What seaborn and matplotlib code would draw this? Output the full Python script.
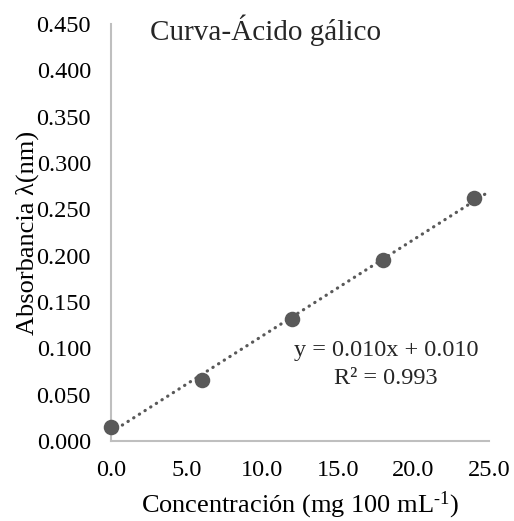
import matplotlib
matplotlib.use("Agg")
import matplotlib.pyplot as plt
import seaborn as sns
import numpy as np
import pandas as pd

conc = [0.0, 6.0, 12.0, 18.0, 24.0]
absorb = [0.015, 0.066, 0.132, 0.195, 0.262]
x_ticks = [0.0, 5.0, 10.0, 15.0, 20.0, 25.0]
y_ticks = [0.000, 0.050, 0.100, 0.150, 0.200, 0.250, 0.300, 0.350, 0.400, 0.450]
title = "Curva-Ácido gálico"
eq_text = "y = 0.010x + 0.010\nR² = 0.993"

sns.set_theme(style="white")
plt.rcParams['font.family'] = ['Liberation Serif', 'DejaVu Serif']
plt.rcParams['mathtext.fontset'] = 'custom'
plt.rcParams['mathtext.rm'] = 'Liberation Serif'
plt.rcParams['mathtext.it'] = 'Liberation Serif:italic'

df = pd.DataFrame({"x": conc, "y": absorb})

fig = plt.figure(figsize=(5.14, 5.21), dpi=100)
ax = fig.add_axes([0.216, 0.1536, 0.735, 0.8004])
ax.set_xlim(0, 25)
ax.set_ylim(0, 0.45)

col = "#595959"
sns.regplot(data=df, x="x", y="y", ax=ax, ci=None, truncate=False,
            scatter_kws=dict(s=125, color=col, alpha=1, clip_on=False, zorder=3, linewidths=0),
            line_kws=dict(color=col, lw=2.3, linestyle=(0, (0.1, 2.0)),
                          dash_capstyle='round', clip_on=False))
ax.set_xlim(0, 25)
ax.set_ylim(0, 0.45)

ax.set_xticks(x_ticks)
ax.set_xticklabels([f"{v:.1f}" for v in x_ticks])
ax.set_yticks(y_ticks)
ax.set_yticklabels([f"{v:.3f}" for v in y_ticks])
ax.tick_params(axis='both', labelsize=17.5, length=0, colors='black')
ax.tick_params(axis='x', pad=14)
ax.tick_params(axis='y', pad=14.5)

for s in ['top', 'right']:
    ax.spines[s].set_visible(False)
for s in ['left', 'bottom']:
    ax.spines[s].set_color('#bfbfbf')
    ax.spines[s].set_linewidth(1.5)

ax.set_xlabel("Concentración (mg 100 mL$^{\\text{-1}}$)", fontsize=19, color='black', labelpad=6)
ax.set_ylabel("Absorbancia λ(nm)", fontsize=19, color='black')
ax.yaxis.set_label_coords(-0.19, 0.5)

ax.text(0.103, 0.986, title, transform=ax.transAxes, fontsize=21, ha='left', va='center')
ax.text(18.2, 0.0825, eq_text, fontsize=17.5, ha='center', va='center', linespacing=1.38)

fig.savefig("out.png", dpi=100)
